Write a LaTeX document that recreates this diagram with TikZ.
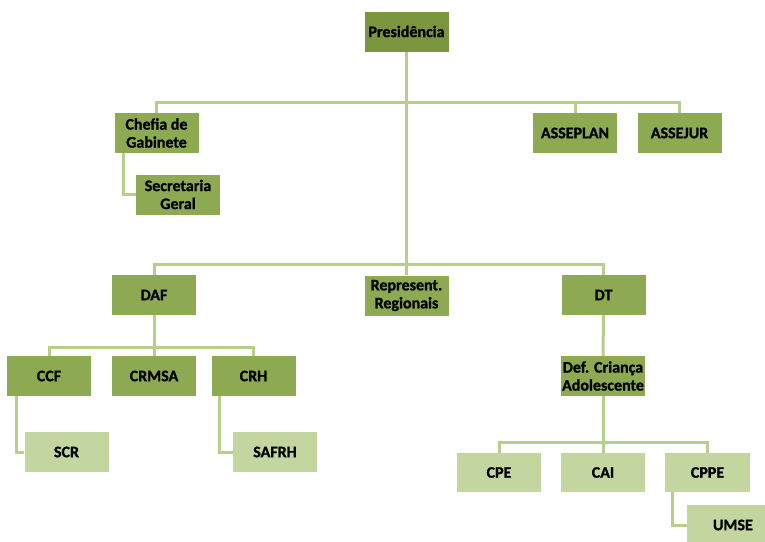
\documentclass[tikz,border=0pt]{standalone}
\usepackage{fontspec}
\setmainfont{Carlito}[BoldFeatures={FakeBold=1.2}]
\usetikzlibrary{calc}
\definecolor{presgreen}{RGB}{124,150,64}
\definecolor{darkgreen}{RGB}{141,170,82}
\definecolor{lightgreen}{RGB}{196,214,160}
\definecolor{linegreen}{RGB}{184,206,144}
\tikzset{
  box/.style={minimum width=84pt, minimum height=40pt, inner sep=1pt, align=center,
    font=\fontsize{16}{18}\selectfont\bfseries, text=black},
  darkbox/.style={box, fill=darkgreen},
  presbox/.style={box, fill=presgreen},
  lightbox/.style={box, fill=lightgreen},
  conn/.style={draw=linegreen, line width=3pt}
}
\begin{document}
\begin{tikzpicture}[x=1pt,y=-1pt]
\useasboundingbox[fill=white] (0,0) rectangle (765,541);
% nodes
\node[presbox] (pres) at (406.5,31.5) {Presidência};
\node[darkbox] (chefia) at (156.5,133) {Chefia de\\Gabinete};
\node[darkbox] (secgeral) at (178,194.5) {Secretaria\\Geral};
\node[darkbox] (asseplan) at (575,133) {ASSEPLAN};
\node[darkbox] (assejur) at (679.5,133) {ASSEJUR};
\node[darkbox] (daf) at (154,295) {DAF};
\node[darkbox] (rep) at (406.5,295.5) {Represent.\\Regionais};
\node[darkbox] (dt) at (603.5,295) {DT};
\node[darkbox] (ccf) at (49,376) {CCF};
\node[darkbox] (crmsa) at (154,376) {CRMSA};
\node[darkbox] (crh) at (253.5,376) {CRH};
\node[lightbox] (scr) at (66.5,452) {SCR};
\node[lightbox] (safrh) at (275,452) {SAFRH};
\node[darkbox] (def) at (603,376) {Def. Criança\\Adolescente};
\node[lightbox, minimum height=39pt] (cpe) at (499,472.5) {CPE};
\node[lightbox, minimum height=39pt] (cai) at (603,472.5) {CAI};
\node[lightbox, minimum height=39pt, minimum width=85pt] (cppe) at (707.5,472.5) {CPPE};
\node[lightbox, minimum width=90pt, text width=78pt, align=left, inner sep=0pt] (umse) at (732,525) {\hspace*{20pt}UMSE};
% bus coordinates
\coordinate (bus1) at (406.5,102);
\coordinate (bus2) at (406.5,264);
\coordinate (bus3) at (154,347);
\coordinate (bus4) at (603,442);
% connectors
\draw[conn] (pres.south) -- (rep.north);
\draw[conn] (chefia.north) |- (bus1) -| (assejur.north);
\draw[conn] (asseplan.north) -- (asseplan.north |- bus1);
\draw[conn] ([xshift=-33.5pt]chefia.south) |- (secgeral.west);
\draw[conn] (daf.north) |- (bus2) -| (dt.north);
\draw[conn] (daf.south) -- (crmsa.north);
\draw[conn] (ccf.north) |- (bus3) -| (crh.north);
\draw[conn] ([xshift=-33pt]ccf.south) |- (scr.west);
\draw[conn] ([xshift=-34.5pt]crh.south) |- (safrh.west);
\draw[conn] (dt.south) -- (def.north);
\draw[conn] (def.south) -- (cai.north);
\draw[conn] (cpe.north) |- (bus4) -| (cppe.north);
\draw[conn] ([xshift=-35.5pt]cppe.south) |- (umse.west);
\end{tikzpicture}
\end{document}
